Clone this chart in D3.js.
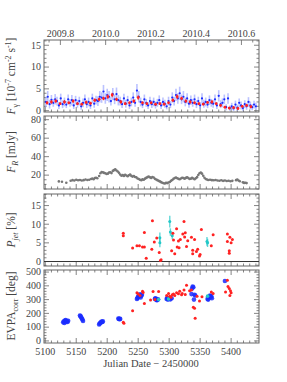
<!DOCTYPE html>
<html>
<head>
<meta charset="utf-8">
<script src="https://cdn.jsdelivr.net/npm/d3@7"></script>
<style>
  body { margin: 0; background: #fff; }
  text { font-family: "Liberation Serif", "DejaVu Serif", serif; fill: #444; }
</style>
</head>
<body>
<div id="chart"></div>
<script>
// gamma-ray flux, 3-day bins (blue)
var gamDate = [5101,5104,5107,5110,5113,5116,5119,5122,5125,5128,5131,5134,5137,5140,5143,5146,5149,5152,5155,5158,
  5161,5164,5167,5170,5173,5176,5179,5182,5185,5188,5191,5194,5197,5200,5203,5206,5209,5212,5215,5218,
  5221,5224,5227,5230,5233,5236,5239,5242,5245,5248,5251,5254,5257,5260,5263,5266,5269,5272,5275,5278,
  5281,5284,5287,5290,5293,5296,5299,5302,5305,5308,5311,5314,5317,5320,5323,5326,5329,5332,5335,5338,
  5341,5344,5347,5350,5353,5356,5359,5362,5365,5368,5371,5374,5377,5380,5383,5386,5389,5392,5395,5398,
  5401,5404,5407,5410,5413,5416,5419,5422,5425,5428,5431,5434,5437,5440];
var gamFlux = [2.0,3.2,1.5,2.5,1.8,2.6,2.2,1.2,2.8,1.5, 2.0,1.4,2.6,1.8,2.4,1.2,2.4,1.6,2.2,1.0,
  1.8,2.6,1.5,2.0,1.2,2.8,1.6,2.4,2.2,3.2, 3.0,4.4,2.8,3.6,3.2,2.2,3.8,2.6,3.8,2.4,
  2.2,1.5,2.8,1.6,2.4,1.2,2.0,3.0,1.8,4.6, 3.2,2.0,1.4,2.6,1.8,1.2,2.2,1.5,2.0,1.3,
  1.8,2.4,1.2,2.0,1.6,1.0,2.2,1.4,3.0,2.2, 3.6,2.8,4.0,2.6,3.2,2.0,2.8,1.6,2.4,1.8,
  2.6,1.5,2.2,1.2,2.8,1.6,2.0,1.4,2.4,1.8, 1.6,2.6,1.2,3.4,1.5,1.8,2.6,0.8,2.8,0.6,
  1.0,0.5,1.4,0.7,1.8,1.2,0.6,1.5,1.0,2.0, 1.2,0.8,1.4,1.0];
var gamErr = [1.2,1.3,1.0,1.1,0.9,1.2,1.0,0.8,1.1,0.9, 1.0,0.8,1.1,0.9,1.2,0.8,1.0,0.9,1.0,0.8,
  1.0,1.1,0.9,1.0,0.8,1.1,0.9,1.0,1.1,1.3, 1.2,1.5,1.2,1.4,1.3,1.0,1.4,1.1,1.5,1.2,
  1.0,0.9,1.1,0.9,1.0,0.8,1.0,1.2,0.9,1.5, 1.3,1.0,0.8,1.1,0.9,0.8,1.0,0.9,1.0,0.8,
  0.9,1.1,0.8,1.0,0.9,0.7,1.0,0.8,1.2,1.0, 1.4,1.2,1.5,1.1,1.3,1.0,1.2,0.9,1.1,0.9,
  1.1,0.9,1.0,0.8,1.2,0.9,1.0,0.8,1.1,0.9, 0.9,1.1,0.8,1.3,0.9,1.0,1.1,0.7,1.2,0.6,
  0.8,0.6,0.9,0.7,1.0,0.9,0.6,0.9,0.8,1.1, 0.9,0.7,0.9,0.8];
// gamma-ray flux, weekly bins (red)
var gamWkDate = [5103,5110,5117,5124,5131,5138,5145,5152,5159,5166,5173,5180,5187,5194,5201,5208,5215,5222,5229,5236,
  5243,5250,5257,5264,5271,5278,5285,5292,5299,5306,5313,5320,5327,5334,5341,5348,5355,5362,5369,5376,
  5383,5390,5397,5404,5411,5418,5425,5432];
var gamWkFlux = [1.8,2.0,2.2,1.6,2.0,1.8,2.2,1.6,1.5,1.9,1.7,2.4,2.6,2.8,3.2,3.6,2.6,2.0,1.6,1.8,
  2.2,3.0,1.8,1.6,1.8,1.5,1.6,1.5,1.8,2.4,3.2,2.8,2.2,2.0,1.8,1.6,1.5,1.9,2.0,1.6,
  1.2,0.8,0.6,0.7,0.5,1.0,1.2,0.9];
var gamWkErr = [0.4,0.4,0.4,0.3,0.4,0.3,0.4,0.3,0.3,0.4,0.3,0.4,0.4,0.4,0.5,0.5,0.4,0.4,0.3,0.3,
  0.4,0.5,0.3,0.3,0.3,0.3,0.3,0.3,0.3,0.4,0.5,0.4,0.4,0.4,0.3,0.3,0.3,0.3,0.4,0.3,
  0.3,0.3,0.3,0.3,0.3,0.3,0.3,0.3];

// optical R-band flux
var optDate = [5122,5127,5134,5141,5144,5147,5150,5153,5156,5159,5162,5165,5168,5171,5174,5176,5178,5180,5182,5184,
  5187,5189,5191,5193,5195,5197,5199,5201,5203,5205,5207,5209,5211,5213,5215,5217,5219,5221,5223,5225,
  5227,5229,5231,5233,5235,5237,5239,5241,5243,5245,5247,5249,5251,5253,5255,5257,5259,5261,5263,5265,
  5267,5269,5271,5273,5275,5277,5279,5281,5283,5285,5287,5289,5291,5293,5295,5297,5299,5301,5303,5305,
  5307,5309,5311,5313,5315,5317,5319,5321,5323,5325,5327,5329,5331,5333,5335,5337,5339,5341,5343,5345,
  5347,5349,5351,5353,5355,5357,5359,5361,5363,5366,5369,5372,5375,5378,5381,5384,5387,5390,5393,5396,
  5399,5402,5408,5410,5412,5414,5419,5421,5423,5425];
var optFlux = [13.2,12.8,11.7,14.0,14.6,14.2,15.0,14.4,14.8,14.2,14.6,15.2,14.8,15.0,15.8,16.4,15.6,16.8,17.2,16.6,
  19.0,22.0,23.4,23.0,22.4,22.0,21.2,21.6,22.8,23.0,22.2,24.6,25.4,26.2,25.0,24.0,22.5,20.6,19.4,20.0,
  19.2,20.4,19.6,18.8,19.8,20.6,19.2,18.4,19.0,18.0,17.6,16.4,15.8,15.0,14.6,15.4,15.0,16.2,17.0,17.8,
  18.4,17.6,17.0,18.0,17.4,16.0,15.2,14.6,13.8,13.2,12.4,11.8,11.2,11.0,11.6,11.4,12.0,12.6,13.8,14.8,
  16.0,16.8,17.4,16.6,16.0,15.6,16.4,17.2,16.8,16.2,17.0,17.6,16.8,15.8,16.2,17.0,16.4,15.6,16.6,17.8,
  20.2,22.0,22.8,21.6,19.4,17.2,15.8,15.2,14.8,15.0,14.6,14.4,14.8,14.2,14.0,14.4,13.8,14.2,13.6,14.0,
  13.4,13.8,14.6,15.2,14.2,13.4,12.2,11.6,11.8,11.4];

// polarization degree (red: optical, cyan: other)
var polDate = [5226,5226,5241,5248,5252,5257,5260,5260,5263,5272,5273,5276,5280,5284,5286,5287,
  5304,5306,5307,5309,5312,5313,5315,5316,5318,5322,5324,5325,5326,5328,5330,5336,5338,5338,5341,
  5344,5346,5349,5350,5352,5368,5371,5394,5394,5397,5397,5398,5400,5402];
var polVal = [7.6,6.9,3.6,4.2,4.2,3.9,3.9,7.8,0.9,3.3,10.9,5.2,6.3,2.4,0.3,0.5,
  2.9,7.6,5.8,2.1,8.8,3.9,5.5,3.7,5.9,7.4,10.7,6.6,7.7,4.0,5.6,6.5,3.0,2.1,5.9,
  2.7,3.3,1.5,1.9,8.6,4.2,7.2,7.4,5.4,2.2,2.9,6.5,5.0,5.9];
var polCyDate = [5285,5285,5301,5302,5305,5361,5362];
var polCyVal = [6.4,5.0,10.7,7.9,6.9,5.4,5.0];
var polCyErr = [1.4,1.2,1.6,1.0,0.9,1.2,1.1];

// EVPA (blue, red, cyan)
var evBlueDate = [5129,5130,5131,5132,5133,5134,5135,5136,5137, 5156,5157,5158,5159,5160,5161,
  5187,5188,5189,5190,5191,5192,5193, 5218,5219,5220,5221,
  5248,5249,5250,5251,5252,5253,5254,5255,5256, 5277,5278,5279,5280,5281,5282,
  5296,5297,5298,5300,5302,5304, 5336,5337,5338,5339,5340,5341,5342,
  5362,5363,5364,5365,5366,5367,5368,5369, 5390];
var evBlueVal = [135,142,130,148,152,140,145,138,146, 185,180,172,162,155,145,
  120,126,132,135,140,138,142, 162,160,158,160,
  305,312,320,332,325,338,315,328,335, 305,310,300,295,298,302,
  305,312,300,308,302,310, 340,380,395,390,300,335,330,
  305,300,315,322,330,318,325,310, 435];
var evRedDate = [5226,5227,5241,5248,5250,5253,5257,5258,5260,5270,5274,5277,5283,5296,5299,5301,5303,5305,
  5307,5309,5312,5315,5317,5320,5321,5324,5326,5328,5333,5336,5339,5341,5342,5345,5349,5353,5368,5371,
  5391,5394,5395,5397,5398,5399,5400];
var evRedVal = [135,128,219,350,340,330,360,352,272,297,358,300,358,330,345,325,318,335,
  340,330,350,342,360,335,345,370,338,405,365,370,245,238,165,325,290,320,355,345,
  355,440,395,380,330,365,350];
var evCyDate = [5283,5299,5362];
var evCyVal = [300,305,325];

// axis ticks
var jdTicks = [5100,5150,5200,5250,5300,5350,5400];
var yearTicks = [2009.8,2010.0,2010.2,2010.4,2010.6];

var W = 287, H = 382;
var svg = d3.select("#chart").append("svg").attr("width", W).attr("height", H);

var x = d3.scaleLinear().domain([5098, 5445]).range([44, 259]);
// year -> JD (2010.0 = JD 2455197.5)
var yearToJd = yr => 5197.5 + (yr - 2010) * 365.25;

var frameColor = "#666";
var blue = "#1a2cff", red = "#ff2222", cyan = "#22c8c8";
var tickFont = "10px";

function makePanel(top, bottom, domain, major, minor) {
    var y = d3.scaleLinear().domain(domain).range([bottom, top]);
    var g = svg.append("g");
    g.append("rect").attr("x", 44).attr("y", top).attr("width", 215).attr("height", bottom - top)
        .attr("fill", "none").attr("stroke", frameColor).attr("stroke-width", 1);
    // y ticks left and right
    var minT = d3.range(Math.ceil(domain[0] / minor) * minor, domain[1], minor);
    minT.forEach(function (v) {
        var isMaj = Math.abs(v / major - Math.round(v / major)) < 1e-6;
        var len = isMaj ? 5 : 2.5;
        g.append("line").attr("x1", 44).attr("x2", 44 + len).attr("y1", y(v)).attr("y2", y(v))
            .attr("stroke", frameColor).attr("stroke-width", 0.8);
        g.append("line").attr("x1", 259).attr("x2", 259 - len).attr("y1", y(v)).attr("y2", y(v))
            .attr("stroke", frameColor).attr("stroke-width", 0.8);
        if (isMaj) {
            g.append("text").attr("x", 41).attr("y", y(v) + 3.3).attr("text-anchor", "end")
                .style("font-size", tickFont).text(v);
        }
    });
    // x ticks top and bottom (JD)
    d3.range(5100, 5445, 10).forEach(function (v) {
        var len = v % 50 === 0 ? 5 : 2.5;
        g.append("line").attr("x1", x(v)).attr("x2", x(v)).attr("y1", bottom).attr("y2", bottom - len)
            .attr("stroke", frameColor).attr("stroke-width", 0.8);
        if (top > 45) {
            g.append("line").attr("x1", x(v)).attr("x2", x(v)).attr("y1", top).attr("y2", top + len)
                .attr("stroke", frameColor).attr("stroke-width", 0.8);
        }
    });
    return { g: g, y: y };
}

function yLabel(cy, parts) {
    var t = svg.append("text").attr("transform", `translate(15,${cy}) rotate(-90)`)
        .attr("text-anchor", "middle").style("font-size", "11.5px");
    parts.forEach(function (p) {
        var ts = t.append("tspan").text(p.t);
        if (p.i) ts.style("font-style", "italic");
        if (p.sub) ts.attr("dy", p.sub);
        if (p.small) ts.style("font-size", "8px");
    });
}

// --- Panel 1: gamma-ray flux ---
var p1 = makePanel(40, 112, [-0.3, 16.2], 5, 1);
// year ticks on top
d3.range(2009.75, 2010.66, 0.05).forEach(function (yr) {
    var isMaj = yearTicks.some(t => Math.abs(t - yr) < 1e-6);
    var xx = x(yearToJd(yr));
    if (xx < 44 || xx > 259) return;
    p1.g.append("line").attr("x1", xx).attr("x2", xx).attr("y1", 40).attr("y2", 40 + (isMaj ? 5 : 2.5))
        .attr("stroke", frameColor).attr("stroke-width", 0.8);
});
yearTicks.forEach(function (yr) {
    svg.append("text").attr("x", x(yearToJd(yr))).attr("y", 36.5).attr("text-anchor", "middle")
        .style("font-size", tickFont).text(yr.toFixed(1));
});
var gamData = gamDate.map((d, i) => ({ d: d, v: gamFlux[i], e: gamErr[i] }));
p1.g.selectAll(".gerr").data(gamData).enter().append("line")
    .attr("x1", d => x(d.d)).attr("x2", d => x(d.d))
    .attr("y1", d => p1.y(Math.max(-0.3, d.v - d.e))).attr("y2", d => p1.y(d.v + d.e))
    .attr("stroke", "#8f9bff").attr("stroke-width", 1.6).attr("opacity", 0.6);
p1.g.selectAll(".gpt").data(gamData).enter().append("circle")
    .attr("cx", d => x(d.d)).attr("cy", d => p1.y(d.v)).attr("r", 1.1).attr("fill", blue);
var wkData = gamWkDate.map((d, i) => ({ d: d, v: gamWkFlux[i], e: gamWkErr[i] }));
p1.g.selectAll(".werr").data(wkData).enter().append("line")
    .attr("x1", d => x(d.d)).attr("x2", d => x(d.d))
    .attr("y1", d => p1.y(d.v - d.e)).attr("y2", d => p1.y(d.v + d.e))
    .attr("stroke", red).attr("stroke-width", 1);
p1.g.selectAll(".wpt").data(wkData).enter().append("circle")
    .attr("cx", d => x(d.d)).attr("cy", d => p1.y(d.v)).attr("r", 1.4).attr("fill", red);
yLabel(76, [{ t: "F", i: true }, { t: "γ", sub: "3", small: true }, { t: " [10", sub: "-3" },
    { t: "-7", sub: "-4", small: true }, { t: " cm", sub: "4" }, { t: "-2", sub: "-4", small: true },
    { t: " s", sub: "4" }, { t: "-1", sub: "-4", small: true }, { t: "]", sub: "4" }]);

// --- Panel 2: optical flux ---
var p2 = makePanel(116, 189, [5, 84], 20, 5);
p2.g.selectAll(".opt").data(optDate.map((d, i) => ({ d: d, v: optFlux[i] }))).enter().append("circle")
    .attr("cx", d => x(d.d)).attr("cy", d => p2.y(d.v)).attr("r", 1.3).attr("fill", "#777");
yLabel(152, [{ t: "F", i: true }, { t: "R", sub: "3", i: true, small: true }, { t: " [mJy]", sub: "-3" }]);

// --- Panel 3: polarization degree ---
var p3 = makePanel(194, 266, [-1.2, 18.1], 5, 1);
p3.g.append("line").attr("x1", 44).attr("x2", 259).attr("y1", p3.y(0)).attr("y2", p3.y(0))
    .attr("stroke", "#333").attr("stroke-width", 1);
var cyData = polCyDate.map((d, i) => ({ d: d, v: polCyVal[i], e: polCyErr[i] }));
p3.g.selectAll(".cerr").data(cyData).enter().append("line")
    .attr("x1", d => x(d.d)).attr("x2", d => x(d.d))
    .attr("y1", d => p3.y(d.v - d.e)).attr("y2", d => p3.y(d.v + d.e))
    .attr("stroke", cyan).attr("stroke-width", 1.4).attr("opacity", 0.7);
p3.g.selectAll(".cpt").data(cyData).enter().append("circle")
    .attr("cx", d => x(d.d)).attr("cy", d => p3.y(d.v)).attr("r", 1.5).attr("fill", cyan);
p3.g.selectAll(".ppt").data(polDate.map((d, i) => ({ d: d, v: polVal[i] }))).enter().append("circle")
    .attr("cx", d => x(d.d)).attr("cy", d => p3.y(d.v)).attr("r", 1.5).attr("fill", red);
yLabel(230, [{ t: "P", i: true }, { t: "jet", sub: "3", i: true, small: true }, { t: " [%]", sub: "-3" }]);

// --- Panel 4: EVPA ---
var p4 = makePanel(270, 343, [-15, 515], 100, 20);
p4.g.selectAll(".bev").data(evBlueDate.map((d, i) => ({ d: d, v: evBlueVal[i] }))).enter().append("circle")
    .attr("cx", d => x(d.d)).attr("cy", d => p4.y(d.v)).attr("r", 2.3).attr("fill", blue).attr("opacity", 0.85);
p4.g.selectAll(".cev").data(evCyDate.map((d, i) => ({ d: d, v: evCyVal[i] }))).enter().append("circle")
    .attr("cx", d => x(d.d)).attr("cy", d => p4.y(d.v)).attr("r", 1.8).attr("fill", cyan);
p4.g.selectAll(".rev").data(evRedDate.map((d, i) => ({ d: d, v: evRedVal[i] }))).enter().append("circle")
    .attr("cx", d => x(d.d)).attr("cy", d => p4.y(d.v)).attr("r", 1.5).attr("fill", red);
yLabel(306, [{ t: "EVPA" }, { t: "corr", sub: "3", small: true }, { t: " [deg]", sub: "-3" }]);

// bottom axis labels
jdTicks.forEach(function (v) {
    svg.append("text").attr("x", x(v)).attr("y", 355).attr("text-anchor", "middle")
        .style("font-size", tickFont).text(v);
});
svg.append("text").attr("x", 151).attr("y", 367).attr("text-anchor", "middle")
    .style("font-size", "10.5px").text("Julian Date − 2450000");
</script>
</body>
</html>
